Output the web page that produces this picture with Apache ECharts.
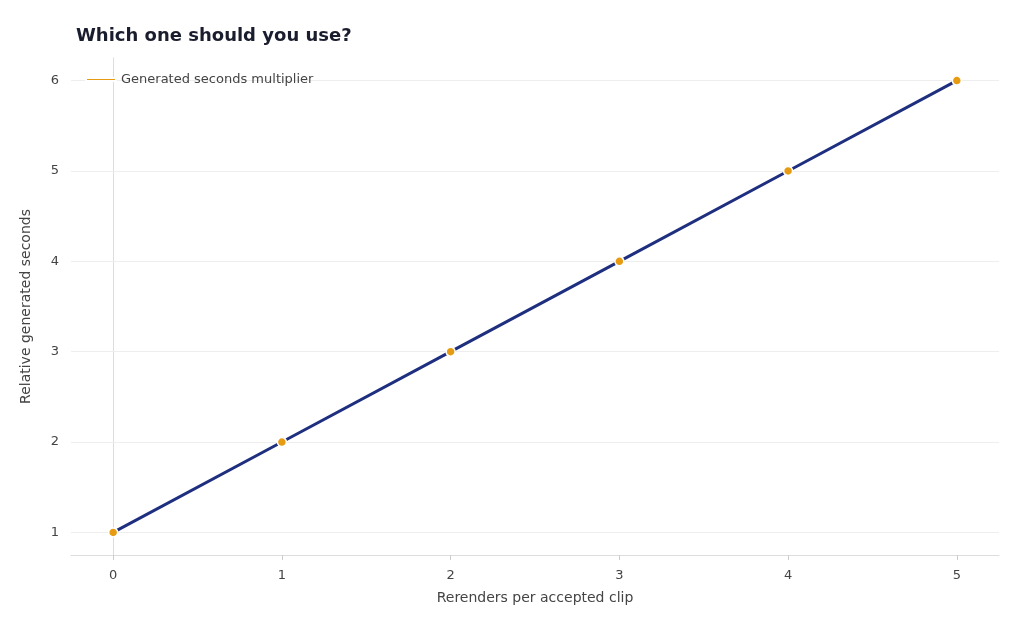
<!DOCTYPE html>
<html><head><meta charset="utf-8">
<script src="https://cdn.jsdelivr.net/npm/echarts@6/dist/echarts.min.js"></script>
<style>html,body{margin:0;padding:0;background:#fff}#c{width:1024px;height:631px}</style>
</head><body><div id="c"></div>
<script>
const xValues = [0, 1, 2, 3, 4, 5];
const yValues = [1, 2, 3, 4, 5, 6];
const xTicks = [0, 1, 2, 3, 4, 5];
const yTicks = [1, 2, 3, 4, 5, 6];
const chart = echarts.init(document.getElementById('c'));
const font = 'DejaVu Sans';
chart.setOption({
  animation: false,
  textStyle: {fontFamily: font},
  title: {text: 'Which one should you use?', left: 71, top: 22,
    textStyle: {fontFamily: font, fontSize: 18, fontWeight: 'bold', color: '#1a1d2e'}},
  legend: {left: 80, top: 68, itemWidth: 30, itemHeight: 3, icon: 'rect',
    textStyle: {fontFamily: font, fontSize: 13, color: '#444'},
    data: ['Generated seconds multiplier']},
  grid: {left: 71, right: 25, top: 58, bottom: 76},
  xAxis: {type: 'value', min: -0.25, max: 5.25,
    name: 'Rerenders per accepted clip', nameLocation: 'middle', nameGap: 36,
    nameTextStyle: {fontFamily: font, fontSize: 14, color: '#444'},
    axisLine: {show: true, lineStyle: {color: '#ddd'}},
    axisTick: {show: true, customValues: xTicks, lineStyle: {color: '#ccc'}},
    axisLabel: {customValues: xTicks, color: '#444', fontSize: 13, margin: 14},
    splitLine: {show: false}},
  yAxis: {type: 'value', min: 0.75, max: 6.25,
    name: 'Relative generated seconds', nameLocation: 'middle', nameGap: 38,
    nameTextStyle: {fontFamily: font, fontSize: 14, color: '#444'},
    axisLine: {show: true, lineStyle: {color: '#ddd'}},
    axisTick: {show: true, customValues: yTicks, lineStyle: {color: '#ccc'}},
    axisLabel: {customValues: yTicks, color: '#444', fontSize: 13, margin: 12},
    splitLine: {show: false}},
  series: [{
    name: 'Generated seconds multiplier', type: 'line',
    data: xValues.map((x, i) => [x, yValues[i]]),
    lineStyle: {color: '#1f2f80', width: 3},
    itemStyle: {color: '#e69b12', borderColor: '#fff', borderWidth: 1.5},
    symbol: 'circle', symbolSize: 9, z: 3,
    markLine: {silent: true, symbol: 'none', label: {show: false},
      lineStyle: {color: '#eeeeee', width: 1, type: 'solid'},
      data: yTicks.map(v => ({yAxis: v})), z: 1}
  }]
});
</script></body></html>
